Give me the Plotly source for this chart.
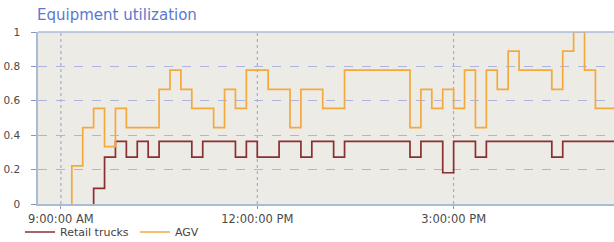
import plotly.graph_objects as go

DAY = "2024-01-01 "

# Change times and the utilization level that holds from each time on
agv_times = ["09:10", "09:20", "09:30", "09:40", "09:50", "10:00", "10:30", "10:40",
             "10:50", "11:00", "11:20", "11:30", "11:40", "11:50", "12:10", "12:30",
             "12:40", "13:00", "13:20", "14:20", "14:30", "14:40", "14:50", "15:00",
             "15:10", "15:20", "15:30", "15:40", "15:50", "16:00", "16:30", "16:40",
             "16:50", "17:00", "17:10"]
agv_values = [2/9, 4/9, 5/9, 3/9, 5/9, 4/9, 6/9, 7/9,
              6/9, 5/9, 4/9, 6/9, 5/9, 7/9, 6/9, 4/9,
              6/9, 5/9, 7/9, 4/9, 6/9, 5/9, 6/9, 5/9,
              7/9, 4/9, 7/9, 6/9, 8/9, 7/9, 6/9, 8/9,
              1.0, 7/9, 5/9]

truck_times = ["09:30", "09:40", "09:50", "10:00", "10:10", "10:20", "10:30", "11:00",
               "11:10", "11:40", "11:50", "12:00", "12:20", "12:40", "12:50", "13:10",
               "13:20", "14:20", "14:30", "14:50", "15:00", "15:20", "15:30", "16:30",
               "16:40"]
truck_values = [1/11, 3/11, 4/11, 3/11, 4/11, 3/11, 4/11, 3/11,
                4/11, 3/11, 4/11, 3/11, 4/11, 3/11, 4/11, 3/11,
                4/11, 3/11, 4/11, 2/11, 4/11, 3/11, 4/11, 3/11,
                4/11]

start_value = 0.0
end_time = "17:27"
x_start = "08:39"

y_ticks = [0, 0.2, 0.4, 0.6, 0.8, 1]
y_tick_labels = ["0", "0.2", "0.4", "0.6", "0.8", "1"]
x_ticks = ["09:00", "12:00", "15:00"]
x_tick_labels = ["9:00:00 AM", "12:00:00 PM", "3:00:00 PM"]


def series(times, values):
    xs = [DAY + times[0]] + [DAY + t for t in times] + [DAY + end_time]
    ys = [start_value] + list(values) + [values[-1]]
    return xs, ys


fig = go.Figure()
tx, ty = series(truck_times, truck_values)
ax, ay = series(agv_times, agv_values)
fig.add_trace(go.Scatter(x=tx, y=ty, mode="lines", name="Retail trucks",
                         line=dict(color="#8B2F30", width=1.7, shape="hv")))
fig.add_trace(go.Scatter(x=ax, y=ay, mode="lines", name="AGV",
                         line=dict(color="#F4A93C", width=1.7, shape="hv")))

font = "DejaVu Sans, Verdana, sans-serif"

# vertical dotted grid lines at the x ticks
for t in x_ticks:
    fig.add_shape(type="line", xref="x", yref="paper", x0=DAY + t, x1=DAY + t, y0=0, y1=1,
                  line=dict(color="#9C9CCF", width=1, dash="dot"), layer="below")

fig.update_layout(
    width=614, height=242,
    margin=dict(l=38, r=0, t=32, b=38, autoexpand=False),
    paper_bgcolor="white",
    plot_bgcolor="#EDEBE5",
    title=dict(text="Equipment utilization", x=37/614, xanchor="left", y=1 - 15/242,
               yanchor="middle", font=dict(family=font, size=15, color="#5A78D2")),
    showlegend=True,
    legend=dict(orientation="h", x=(20 - 38) / 576, xanchor="left",
                y=-(232 - 204) / 172, yanchor="middle",
                font=dict(family=font, size=11, color="#444444"),
                itemwidth=30, entrywidth=70, tracegroupgap=0, bgcolor="rgba(0,0,0,0)"),
    xaxis=dict(type="date", range=[DAY + x_start, DAY + end_time],
               tickvals=[DAY + t for t in x_ticks], ticktext=x_tick_labels,
               showgrid=False, zeroline=False,
               showline=True, linecolor="#A9BCD6", linewidth=1.5,
               ticks="outside", ticklen=3, tickcolor="#8B95B8",
               tickfont=dict(family=font, size=11.5, color="#4A4A4A")),
    yaxis=dict(range=[0, 1], tickvals=y_ticks, ticktext=y_tick_labels,
               showgrid=True, gridcolor="#AEB4DA", griddash="dash", gridwidth=1,
               zeroline=False, showline=True, linecolor="#A9BCD6", linewidth=1.5,
               mirror=False, ticklabelstandoff=9,
               ticks="outside", ticklen=5, tickcolor="#8B95B8",
               tickfont=dict(family=font, size=10.5, color="#4A4A4A")),
)
# top border
fig.add_shape(type="line", xref="paper", yref="paper", x0=0, x1=1, y0=1, y1=1,
              line=dict(color="#A9BCD6", width=1.5))

fig.write_html("out.html", config={"displayModeBar": False},
               post_script="document.body.style.margin='0px';")
